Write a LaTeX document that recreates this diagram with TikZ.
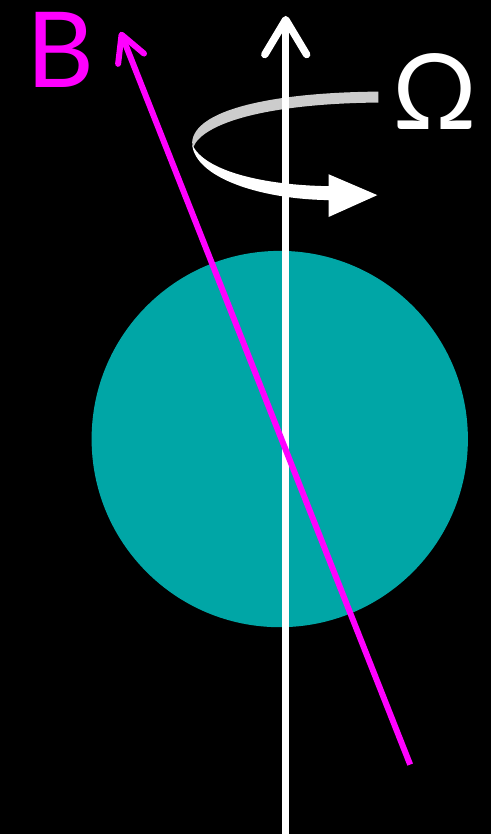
\documentclass[tikz,border=0pt]{standalone}
\usepackage{fontspec}
\setmainfont{Lato}
\usetikzlibrary{arrows.meta}
\definecolor{ballteal}{RGB}{0,166,166}
\definecolor{fieldmag}{RGB}{255,0,255}
\definecolor{ribbongray}{RGB}{204,204,204}

\begin{document}
\begin{tikzpicture}[
    x=0.1mm, y=-0.1mm,
    ball/.style={circle, fill=ballteal, inner sep=0pt, minimum size=37.8mm},
    axisarr/.style={-{Straight Barb[length=3.5mm, width=4.2mm, round]}, line width=0.75mm, white},
    fieldarr/.style={-{Straight Barb[length=2.6mm, width=2.8mm, round]}, line width=0.6mm, fieldmag},
    lbl/.style={inner sep=0pt, anchor=base, font=\fontsize{30}{36}\selectfont},
]
    \fill[black] (0,0) rectangle (493,838);
    \node[ball] (ball) at (281,441) {};
    % spin axis and field direction
    \coordinate (axbot) at (287,838);
    \coordinate (axtop) at (287,16);
    \coordinate (bbot) at (412,768);
    \coordinate (btop) at (121,32);
    % rotation ribbon, upper half behind the axis
    \fill[ribbongray] (380,92) .. controls (270,93) and (195,111) .. (193,143)
        -- (194,148) .. controls (204,123) and (270,104) .. (380,103) -- cycle;
    \draw[axisarr] (axbot) -- (axtop);
    \fill[white] (193,145) .. controls (205,172) and (265,186) .. (330,187)
        -- (330,175) -- (379,196) -- (330,218) -- (330,201)
        .. controls (260,200) and (196,178) .. (193,145) -- cycle;
    \draw[fieldarr] (bbot) -- (btop);
    \node[lbl, text=fieldmag] (blbl) at (61,88) {B};
    \node[lbl, text=white] (omega) at (437,130) {Ω};
\end{tikzpicture}
\end{document}
